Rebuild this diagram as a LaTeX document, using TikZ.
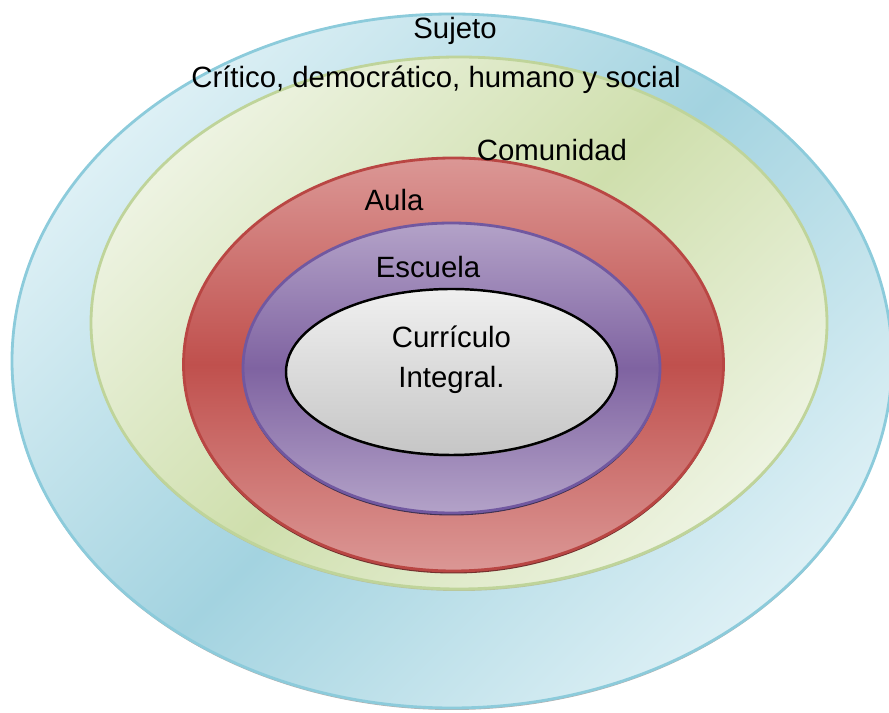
\documentclass[tikz,border=0pt]{standalone}
\usepackage{fontspec}
\setmainfont{Liberation Sans}
\usepackage{tikz}

\definecolor{blueLight}{HTML}{DDF0F5}
\definecolor{blueDark}{HTML}{A3D3E0}
\definecolor{blueEdge}{HTML}{8CCBDB}
\definecolor{greenLight}{HTML}{EDF3E1}
\definecolor{greenDark}{HTML}{CFDFAD}
\definecolor{greenEdge}{HTML}{BFD49A}
\definecolor{redLight}{HTML}{DB9795}
\definecolor{redDark}{HTML}{C0504D}
\definecolor{redEdge}{HTML}{B94643}
\definecolor{purpleLight}{HTML}{B3A2C8}
\definecolor{purpleDark}{HTML}{7F63A1}
\definecolor{purpleEdge}{HTML}{7158A0}

\tikzset{
  ring/.style={line width=0.8pt},
  label/.style={inner sep=0pt, font=\fontsize{8.35}{11.5}\selectfont}
}

\begin{document}
\begin{tikzpicture}
    \useasboundingbox (0,0) rectangle (8.89,7.13);
    % Sujeto
    \fill[gray!60] (4.52,3.50) ellipse [x radius=4.40, y radius=3.47];
    \shade[ring, draw=blueEdge,
      top color=blueLight, bottom color=blueLight, middle color=blueDark,
      shading angle=45]
      (4.52,3.52) ellipse [x radius=4.40, y radius=3.47];
    % Comunidad
    \fill[greenDark!70!gray] (4.59,3.88) ellipse [x radius=3.68, y radius=2.66];
    \shade[ring, draw=greenEdge,
      top color=greenLight, bottom color=greenLight, middle color=greenDark,
      shading angle=45]
      (4.59,3.90) ellipse [x radius=3.68, y radius=2.66];
    % Aula
    \fill[redDark!60!black] (4.535,3.46) ellipse [x radius=2.70, y radius=2.065];
    \shade[ring, draw=redEdge,
      top color=redLight, bottom color=redLight, middle color=redDark]
      (4.535,3.485) ellipse [x radius=2.70, y radius=2.065];
    % Escuela
    \fill[purpleDark!50!black] (4.515,3.425) ellipse [x radius=2.085, y radius=1.45];
    \shade[ring, draw=purpleEdge,
      top color=purpleLight, bottom color=purpleLight, middle color=purpleDark]
      (4.515,3.45) ellipse [x radius=2.085, y radius=1.45];
    % Curriculo
    \fill[gray] (4.515,3.395) ellipse [x radius=1.655, y radius=0.83];
    \shade[draw=black, line width=0.7pt, top color=gray!12, bottom color=gray!45]
      (4.515,3.41) ellipse [x radius=1.655, y radius=0.83];

    \node[label] (sujeto) at (4.55,6.82) {Sujeto};
    \node[label] (critico) at (4.36,6.33) {Crítico, democrático, humano y social};
    \node[label] (comunidad) at (5.52,5.63) {Comunidad};
    \node[label] (aula) at (3.94,5.13) {Aula};
    \node[label] (escuela) at (4.28,4.46) {Escuela};
    \node[label, align=center] (curriculo) at (4.515,3.53) {Currículo\\Integral.};
\end{tikzpicture}
\end{document}
